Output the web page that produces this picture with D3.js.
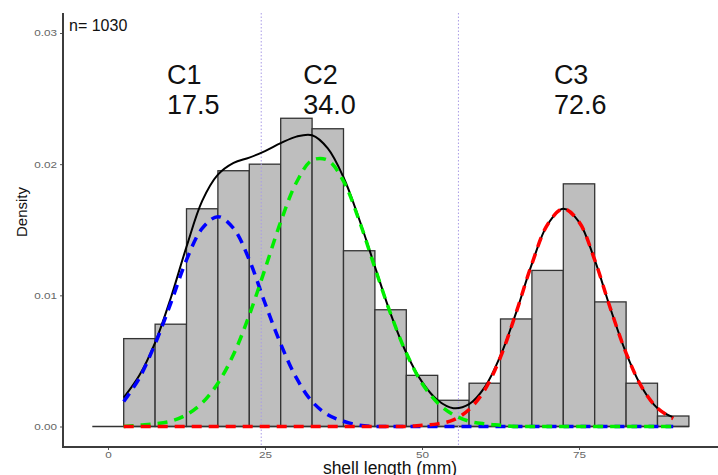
<!DOCTYPE html>
<html>
<head>
<meta charset="utf-8">
<script src="https://cdn.jsdelivr.net/npm/d3@7"></script>
<style>
  body { margin: 0; background: #fff; }
  text { font-family: "Liberation Sans", Arial, sans-serif; }
</style>
</head>
<body>
<div class="svg"></div>
<script>
// histogram of shell length, bins 5 mm wide
var binMid = [5, 10, 15, 20, 25, 30, 35, 40, 45, 50, 55, 60, 65, 70, 75, 80, 85, 90];
var binDensity = [0.0067, 0.0078, 0.0166, 0.0195, 0.0200, 0.0235, 0.0227, 0.0134, 0.0089,
  0.0039, 0.0020, 0.0033, 0.0082, 0.0119, 0.0185, 0.0095, 0.0033, 0.0008];

// fitted curves, every 2.5 mm
var curveX = [2.5, 5, 7.5, 10, 12.5, 15, 17.5, 20, 22.5, 25, 27.5, 30, 32.5, 35, 37.5, 40, 42.5, 45,
  47.5, 50, 52.5, 55, 57.5, 60, 62.5, 65, 67.5, 70, 72.5, 75, 77.5, 80, 82.5, 85, 87.5, 90];
var totalDensity = [0.0022, 0.0039, 0.0064, 0.0098, 0.0137, 0.0172, 0.0192, 0.0201, 0.0205, 0.0210, 0.0216, 0.0221,
  0.0222, 0.0212, 0.0190, 0.0158, 0.0122, 0.0086, 0.0056, 0.0034, 0.0020, 0.0014, 0.0017, 0.0030,
  0.0054, 0.0087, 0.0124, 0.0154, 0.0166, 0.0156, 0.0127, 0.0090, 0.0056, 0.0030, 0.0014, 0.0007];
var c1Density = [0.0019, 0.0037, 0.0063, 0.0094, 0.0127, 0.0151, 0.0160, 0.0151, 0.0127, 0.0094, 0.0063, 0.0037,
  0.0019, 0.0009, 0.0004, 0.0001, 0.0000, 0, 0, 0, 0, 0, 0, 0,
  0, 0, 0, 0, 0, 0, 0, 0, 0, 0, 0, 0];
var c2Density = [0.0000, 0.0001, 0.0002, 0.0004, 0.0009, 0.0018, 0.0033, 0.0055, 0.0085, 0.0120, 0.0156, 0.0186,
  0.0203, 0.0203, 0.0187, 0.0157, 0.0121, 0.0086, 0.0056, 0.0033, 0.0018, 0.0009, 0.0004, 0.0002,
  0.0001, 0.0000, 0, 0, 0, 0, 0, 0, 0, 0, 0, 0];
var c3Density = [0, 0, 0, 0, 0, 0, 0, 0, 0, 0, 0, 0,
  0, 0, 0, 0, 0, 0, 0.0000, 0.0001, 0.0002, 0.0005, 0.0013, 0.0028,
  0.0053, 0.0087, 0.0124, 0.0154, 0.0166, 0.0156, 0.0127, 0.0090, 0.0056, 0.0030, 0.0014, 0.0006];

var cohortNames = ["C1", "C2", "C3"];
var cohortMeans = ["17.5", "34.0", "72.6"];
var cohortBreaks = [24.4, 55.8];
var sampleSize = 1030;

var xTicks = [0, 25, 50, 75];
var yTicks = [0, 0.01, 0.02, 0.03];

var svgWidth = 718;
var svgHeight = 475;

var svg = d3.select(".svg")
  .append("svg")
  .attr("width", svgWidth)
  .attr("height", svgHeight);

var xScale = d3.scaleLinear().domain([0, 75]).range([108, 579]);
var yScale = d3.scaleLinear().domain([0, 0.03]).range([426.5, 33]);
var binWidth = 5;

var panelLeft = 63, panelTop = 13, panelBottom = 447;

// bars
svg.append("g")
  .selectAll("rect")
  .data(binMid)
  .enter()
  .append("rect")
  .attr("x", function(d) { return xScale(d - binWidth / 2); })
  .attr("y", function(d, i) { return yScale(binDensity[i]); })
  .attr("width", function(d) { return xScale(d + binWidth / 2) - xScale(d - binWidth / 2); })
  .attr("height", function(d, i) { return yScale(0) - yScale(binDensity[i]); })
  .attr("fill", "#bebebe")
  .attr("stroke", "#333")
  .attr("stroke-width", 1.3);

// zero line
svg.append("line")
  .attr("x1", xScale(-2.5)).attr("x2", xScale(92.5))
  .attr("y1", yScale(0)).attr("y2", yScale(0))
  .attr("stroke", "#333").attr("stroke-width", 1.5);

// cohort breaks
svg.append("g").selectAll("line")
  .data(cohortBreaks)
  .enter()
  .append("line")
  .attr("x1", function(d) { return xScale(d); })
  .attr("x2", function(d) { return xScale(d); })
  .attr("y1", panelTop).attr("y2", panelBottom)
  .attr("stroke", "#a99be6")
  .attr("stroke-width", 1)
  .attr("stroke-dasharray", "1.5,2");

var line = d3.line()
  .x(function(d) { return xScale(d[0]); })
  .y(function(d) { return yScale(d[1]); })
  .curve(d3.curveCatmullRom);

function pts(ys) {
  return curveX.map(function(x, i) { return [x, ys[i]]; });
}

svg.append("path")
  .attr("d", line(pts(totalDensity)))
  .attr("fill", "none")
  .attr("stroke", "#000")
  .attr("stroke-width", 2);

var comps = [
  { ys: c1Density, color: "#0000ff" },
  { ys: c2Density, color: "#00ee00" },
  { ys: c3Density, color: "#ff0000" }
];
comps.forEach(function(c) {
  svg.append("path")
    .attr("d", line(pts(c.ys)))
    .attr("fill", "none")
    .attr("stroke", c.color)
    .attr("stroke-width", 3.5)
    .attr("stroke-dasharray", "10,7");
});

// axes
var axisColor = "#3c3c3c";
var yAxis = svg.append("g")
  .attr("transform", "translate(" + panelLeft + ",0)")
  .call(d3.axisLeft(yScale).tickValues(yTicks).tickFormat(d3.format(".2f")).tickSize(3).tickPadding(3));
var xAxis = svg.append("g")
  .attr("transform", "translate(0," + panelBottom + ")")
  .call(d3.axisBottom(xScale).tickValues(xTicks).tickSize(3).tickPadding(2));

[yAxis, xAxis].forEach(function(a) {
  a.select(".domain").remove();
  a.selectAll(".tick line").attr("stroke", "#555");
  a.selectAll(".tick text")
    .attr("fill", "#666")
    .attr("font-size", 9)
    .attr("font-family", "Liberation Sans, Arial, sans-serif")
    .each(function() {
      // the reference tick labels are drawn a little wide
      var w = this.getComputedTextLength();
      d3.select(this).attr("textLength", w * 1.3).attr("lengthAdjust", "spacingAndGlyphs");
    });
});

svg.append("line")
  .attr("x1", panelLeft).attr("x2", panelLeft)
  .attr("y1", panelTop).attr("y2", panelBottom)
  .attr("stroke", axisColor).attr("stroke-width", 2);
svg.append("line")
  .attr("x1", panelLeft - 1).attr("x2", svgWidth)
  .attr("y1", panelBottom).attr("y2", panelBottom)
  .attr("stroke", axisColor).attr("stroke-width", 2);

// annotations
svg.append("text")
  .text("n= " + sampleSize)
  .attr("x", 69).attr("y", 31)
  .attr("font-size", 16)
  .attr("fill", "#111");

var labelX = [9.4, 31.1, 71];
var labels = svg.append("g").selectAll("g")
  .data(cohortNames)
  .enter()
  .append("g");
labels.append("text")
  .text(function(d) { return d; })
  .attr("x", function(d, i) { return xScale(labelX[i]); })
  .attr("y", 84)
  .attr("font-size", 27)
  .attr("fill", "#111");
labels.append("text")
  .text(function(d, i) { return cohortMeans[i]; })
  .attr("x", function(d, i) { return xScale(labelX[i]); })
  .attr("y", 114)
  .attr("font-size", 27)
  .attr("fill", "#111");

svg.append("text")
  .text("Density")
  .attr("transform", "translate(27,212) rotate(-90)")
  .attr("text-anchor", "middle")
  .attr("font-size", 15)
  .attr("fill", "#111");

svg.append("text")
  .text("shell length (mm)")
  .attr("x", 390).attr("y", 474)
  .attr("text-anchor", "middle")
  .attr("font-size", 17.5)
  .attr("fill", "#111");
</script>
</body>
</html>
